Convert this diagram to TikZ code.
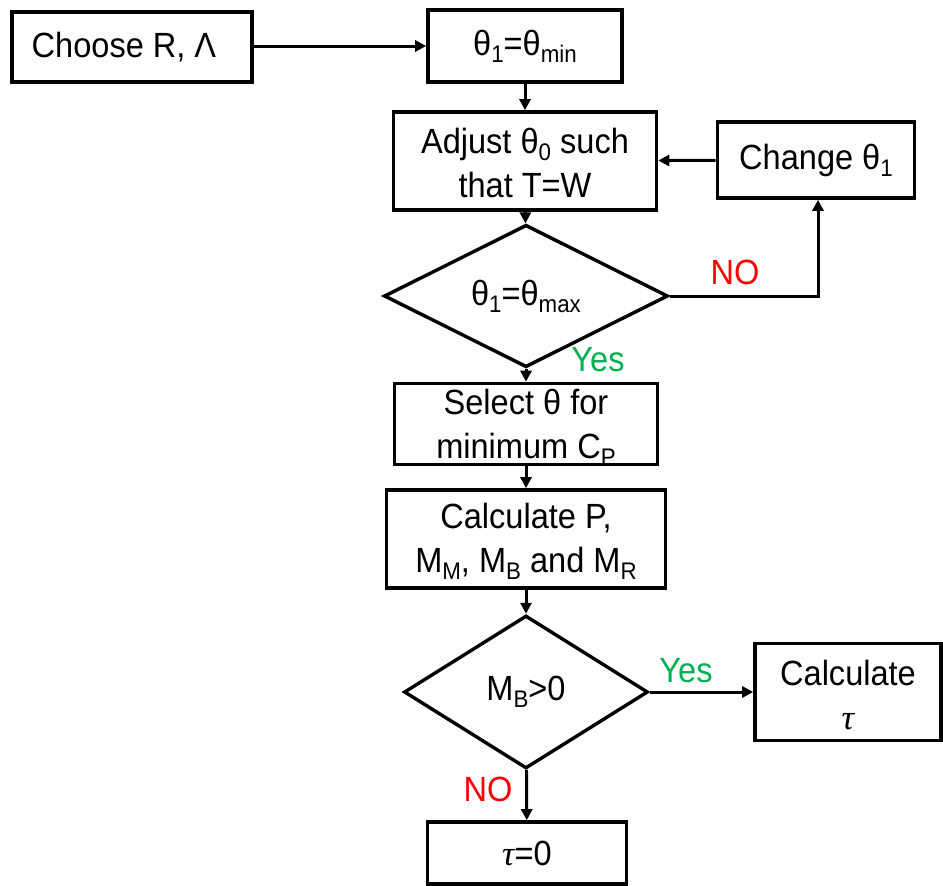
\documentclass[tikz,border=0pt]{standalone}
\usepackage{fontspec}
\setmainfont{Liberation Sans}[FakeStretch=0.93]
\newfontfamily\tauf{Liberation Serif}
\usetikzlibrary{shapes.geometric,arrows.meta}
\newcommand\sbs[1]{\raisebox{-7pt}{\fontsize{24}{24}\selectfont #1}}
\newcommand\tausym{{\tauf\itshape τ}}
\definecolor{nored}{HTML}{FF0000}
\definecolor{yesgreen}{HTML}{00B050}
\begin{document}
\begin{tikzpicture}[x=1pt,y=-1pt,
  every node/.style={font=\fontsize{35}{44}\selectfont},
  box/.style={draw,line width=3.6pt,inner sep=0pt,align=center},
  dia/.style={draw,diamond,line width=3.4pt,inner sep=0pt,align=center},
  arr/.style={line width=3pt,-{Triangle[length=11pt,width=11pt]}},
  lbl/.style={inner sep=0pt}]
\useasboundingbox (0,0) rectangle (943,886);
\node[box,minimum width=240,minimum height=70] (choose) at (132,47) {Choose R, Λ\hspace*{16pt}};
\node[box,minimum width=194,minimum height=72] (tmin) at (525,46) {θ\sbs{1}=θ\sbs{min}};
\node[box,minimum width=263,minimum height=98] (adj) at (525,161) {\rule{0pt}{30pt}Adjust θ\sbs{0} such\\that T=W};
\node[box,minimum width=197,minimum height=76] (chg) at (816,160) {Change θ\sbs{1}};
\node[dia,minimum width=284,minimum height=133] (d1) at (526,296) {θ\sbs{1}=θ\sbs{max}};
\node[box,minimum width=263,minimum height=81] (sel) at (526,424) {Select θ for\\minimum C\smash{\sbs{P}}};
\node[box,minimum width=279,minimum height=98] (calc) at (526,539) {\rule{0pt}{30pt}Calculate P,\\M\sbs{M}, M\sbs{B} and M\sbs{R}};
\node[dia,minimum width=244,minimum height=153] (d2) at (526,692) {M\sbs{B}>0};
\node[box,minimum width=186,minimum height=97] (ctau) at (848,692) {\rule{0pt}{32pt}Calculate\\\tausym};
\node[box,minimum width=199,minimum height=62] (tz) at (527,853) {\tausym=0};
\coordinate (corner) at (818,296);
\draw[arr] (choose.east |- tmin.west) -- (tmin.west);
\draw[arr] (tmin) -- (adj);
\draw[arr] (chg) -- (adj);
\draw[arr] (adj) -- (d1);
\draw[arr] (d1.east) -- (corner) -- (corner |- chg.south);
\draw[arr] (d1) -- (sel);
\draw[arr] (sel) -- (calc);
\draw[arr] (calc) -- (d2);
\draw[arr] (d2.east) -- (ctau.west);
\draw[arr] (d2) -- (tz);
\node[lbl,text=nored] (no1) at (735,272) {NO};
\node[lbl,text=yesgreen] (yes1) at (598,360) {Yes};
\node[lbl,text=yesgreen] (yes2) at (686,671) {Yes};
\node[lbl,text=nored] (no2) at (488,789) {NO};
\end{tikzpicture}
\end{document}
